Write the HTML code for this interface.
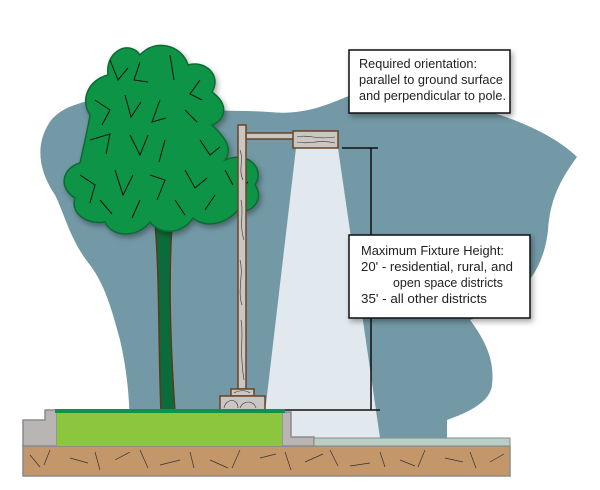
<!DOCTYPE html>
<html><head><meta charset="utf-8"><style>
html,body{margin:0;padding:0;background:#fff;width:600px;height:490px;overflow:hidden}
.t{font-family:"Liberation Sans",sans-serif;font-size:12.5px;fill:#222}
</style></head><body>
<svg width="600" height="490" viewBox="0 0 600 490" xmlns="http://www.w3.org/2000/svg">
<defs>
<filter id="sh" x="-20%" y="-20%" width="140%" height="140%"><feDropShadow dx="2" dy="3" stdDeviation="3" flood-opacity="0.35"/></filter>
</defs>
<!-- blue blob -->
<path d="M92,100 C70,105 55,112 48,125 C36,145 38,170 55,195 C65,215 70,240 90,265 C105,285 112,310 120,340 C127,370 130,400 130,438 L447,438 L447,420 C460,415 490,405 492,385 C495,360 485,340 470,320 C530,300 545,260 548,230 C550,200 560,180 577,157 C560,140 530,125 500,115 C450,100 390,85 346,97 C320,108 300,115 269,112 C240,110 220,112 200,108 Z" fill="#7399a6"/>
<!-- light beam -->
<path d="M296,148 L338,148 L380,438 L262,438 Z" fill="#e1e9ef"/>
<!-- trunk -->
<path d="M154,212 C160,270 158,340 161,412 L175,412 C170,340 168,270 173,212 Z" fill="#0c6b3a" stroke="#5a3a1a" stroke-width="1.5"/>
<!-- tree canopy -->
<g filter="url(#sh)">
<path d="M108,75 C105,50 130,40 140,55 C155,38 182,45 188,65 C205,60 222,75 212,92 C230,105 225,120 212,125 C228,140 232,150 225,160 C250,150 265,170 255,185 C265,198 252,215 238,210 C225,225 205,228 193,218 C182,235 160,235 150,222 C138,238 112,238 105,222 C85,225 70,212 75,198 C58,188 62,168 80,163 C84,145 88,128 90,115 C80,100 88,80 108,75 Z" fill="#0f9447" stroke="#0b6b33" stroke-width="1.5"/>
</g>
<g stroke="#111" stroke-width="1" fill="none">
<path d="M110,60 l8,20 l10,-12"/><path d="M140,62 l-6,18 l14,2"/><path d="M170,55 l4,25"/><path d="M200,80 l-10,14 l12,6"/>
<path d="M95,100 l15,10 l-8,15"/><path d="M125,95 l6,22 l10,-15"/><path d="M160,100 l-8,22 l14,-4"/><path d="M185,110 l12,12"/>
<path d="M90,140 l20,-6 l-4,20"/><path d="M130,135 l10,20 l8,-20"/><path d="M165,140 l-6,22"/><path d="M200,140 l10,15 l10,-8"/>
<path d="M80,175 l15,10 l-5,18"/><path d="M115,170 l8,25 l10,-20"/><path d="M150,175 l15,5 l-8,20"/><path d="M185,170 l10,18 l12,-10"/><path d="M225,170 l8,15"/>
<path d="M100,200 l12,14"/><path d="M140,200 l-8,18"/><path d="M175,200 l10,15"/><path d="M215,195 l-10,15"/><path d="M240,190 l8,-8"/>
</g>
<!-- dimension -->
<g stroke="#111" stroke-width="1.5">
<line x1="342" y1="148" x2="378" y2="148"/><line x1="371" y1="148" x2="371" y2="410"/><line x1="272" y1="410" x2="380" y2="410"/>
</g>
<!-- pole -->
<g fill="#c9c6c3" stroke="#6b4323" stroke-width="1.5">
<rect x="246" y="133" width="48" height="6"/>
<rect x="238" y="125" width="8" height="264"/>
<rect x="293" y="131" width="45" height="17"/>
<rect x="231" y="389" width="23" height="7"/>
<rect x="220" y="396" width="45" height="15"/>
</g>
<g stroke="#333" stroke-width="0.6" fill="none">
<path d="M240,150 c4,10 -2,20 3,30 M241,200 c3,12 -2,25 3,40 M240,260 c4,15 -3,30 2,45 M241,320 c3,15 -2,30 3,60"/>
<path d="M297,137 c10,-3 20,3 38,0 M297,142 c12,3 22,-3 38,1"/>
<path d="M224,408 c2,-10 14,-10 14,0 M240,408 c3,-8 14,-8 16,0 M234,393 c5,-3 12,-3 16,0"/>
</g>
<!-- ground -->
<rect x="23" y="446" width="487" height="30" fill="#c4976a" stroke="#8a8a8a" stroke-width="1.5"/>
<g stroke="#333" stroke-width="0.7">
<path d="M30,455 l10,12 M50,450 l-6,15 M70,458 l18,5 M95,452 l5,18 M115,460 l15,-8 M140,450 l8,18 M160,465 l20,-5 M190,452 l4,16 M210,460 l18,8 M240,450 l-8,18 M260,458 l16,-4 M285,452 l6,18 M305,462 l18,-8 M330,450 l8,16 M350,466 l20,-3 M380,452 l5,15 M400,460 l15,6 M425,450 l-7,17 M445,458 l18,4 M470,452 l6,16 M490,462 l14,-8"/>
</g>
<path d="M23,420 L45,420 L45,410 L57,410 L57,446 L23,446 Z" fill="#b9b5b4" stroke="#8a8a8a" stroke-width="1.5"/>
<path d="M282,412 L291,412 L291,437 L314,437 L314,446 L282,446 Z" fill="#b9b5b4" stroke="#8a8a8a" stroke-width="1.5"/>
<rect x="314" y="438" width="196" height="8" fill="#b8cfc6" stroke="#8a8a8a" stroke-width="1"/>
<rect x="57" y="413" width="225" height="33" fill="#8cc63f"/>
<rect x="55" y="409" width="230" height="4" fill="#0f9447"/>
<!-- labels -->
<rect x="349" y="50" width="161" height="63" fill="#fff" stroke="#111" stroke-width="1.5" filter="url(#sh)"/>
<text class="t" x="359" y="68" textLength="118" lengthAdjust="spacingAndGlyphs">Required orientation:</text>
<text class="t" x="359" y="84" textLength="144" lengthAdjust="spacingAndGlyphs">parallel to ground surface</text>
<text class="t" x="359" y="100" textLength="147" lengthAdjust="spacingAndGlyphs">and perpendicular to pole.</text>
<rect x="349" y="235" width="181" height="83" fill="#fff" stroke="#111" stroke-width="1.5" filter="url(#sh)"/>
<text class="t" x="361" y="255" textLength="143" lengthAdjust="spacingAndGlyphs">Maximum Fixture Height:</text>
<text class="t" x="361" y="271" textLength="152" lengthAdjust="spacingAndGlyphs">20' - residential, rural, and</text>
<text class="t" x="393" y="287" textLength="110" lengthAdjust="spacingAndGlyphs">open space districts</text>
<text class="t" x="361" y="303" textLength="126" lengthAdjust="spacingAndGlyphs">35' - all other districts</text>
</svg>
</body></html>
